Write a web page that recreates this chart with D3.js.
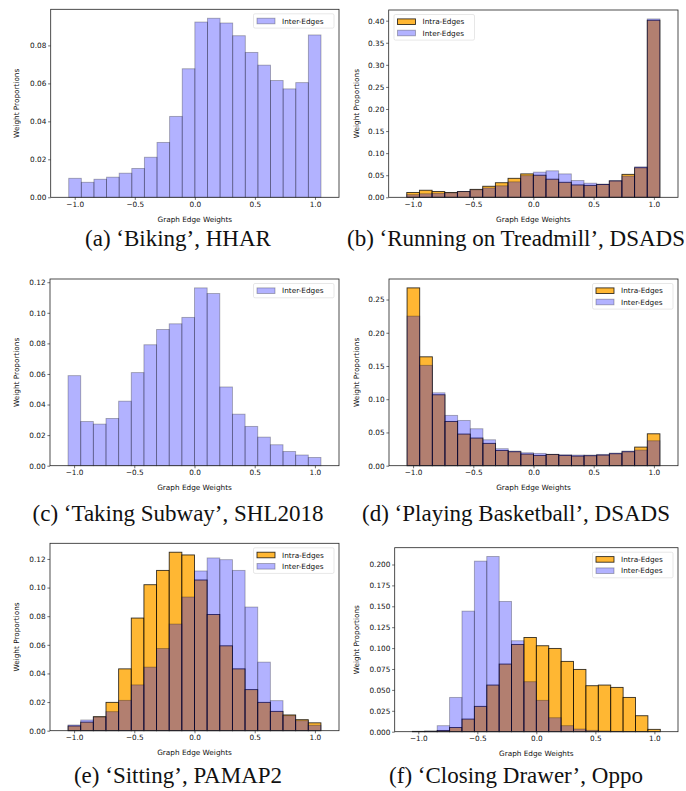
<!DOCTYPE html>
<html>
<head>
<meta charset="utf-8">
<script src="https://cdn.jsdelivr.net/npm/d3@7"></script>
<style>
  body { margin: 0; background: #fff; }
  svg { display: block; }
  .tick text { font-family: "DejaVu Sans", sans-serif; font-size: 7.3px; fill: #111; }
  .axis-label { font-family: "DejaVu Sans", sans-serif; font-size: 7.3px; fill: #111; }
  .legend text { font-family: "DejaVu Sans", sans-serif; font-size: 7.3px; fill: #111; }
  .caption { font-family: "Liberation Serif", serif; font-size: 23px; fill: #111; }
</style>
</head>
<body>
<svg id="fig" width="686" height="791"></svg>
<script>
// histogram bin edges (20 bins)
const binEdges = [-1.05, -0.945, -0.84, -0.735, -0.63, -0.525, -0.42, -0.315, -0.21, -0.105,
  0, 0.105, 0.21, 0.315, 0.42, 0.525, 0.63, 0.735, 0.84, 0.945, 1.05];
const xTicks = [-1.0, -0.5, 0.0, 0.5, 1.0];

// (a) Biking, HHAR
const bikingInter = [0.0100, 0.0079, 0.0095, 0.0106, 0.0127, 0.0152, 0.0211, 0.0289, 0.0426, 0.0677,
  0.0923, 0.0943, 0.0918, 0.0851, 0.0763, 0.0696, 0.0615, 0.0571, 0.0604, 0.0855];
const bikingTicks = [0, 0.02, 0.04, 0.06, 0.08];

// (b) Running on Treadmill, DSADS
const treadmillIntra = [0.011, 0.016, 0.013, 0.011, 0.013, 0.018, 0.025, 0.033, 0.043, 0.053,
  0.050, 0.041, 0.034, 0.028, 0.027, 0.029, 0.037, 0.052, 0.067, 0.401];
const treadmillInter = [0.006, 0.008, 0.009, 0.010, 0.013, 0.017, 0.021, 0.026, 0.035, 0.049,
  0.057, 0.060, 0.053, 0.038, 0.032, 0.030, 0.038, 0.048, 0.069, 0.404];
const treadmillTicks = [0, 0.05, 0.10, 0.15, 0.20, 0.25, 0.30, 0.35, 0.40];

// (c) Taking Subway, SHL2018
const subwayInter = [0.0589, 0.0289, 0.0272, 0.0309, 0.0422, 0.0609, 0.0791, 0.0891, 0.0928, 0.0970,
  0.1163, 0.1126, 0.0515, 0.0337, 0.0257, 0.0187, 0.0137, 0.0093, 0.0070, 0.0054];
const subwayTicks = [0, 0.02, 0.04, 0.06, 0.08, 0.10, 0.12];

// (d) Playing Basketball, DSADS
const basketballIntra = [0.2675, 0.1638, 0.1067, 0.0666, 0.0476, 0.0416, 0.0336, 0.0230, 0.0210, 0.0175,
  0.0155, 0.0170, 0.0155, 0.0145, 0.0150, 0.0160, 0.0180, 0.0210, 0.0280, 0.0480];
const basketballInter = [0.2250, 0.1510, 0.1097, 0.0757, 0.0681, 0.0556, 0.0390, 0.0256, 0.0220, 0.0195,
  0.0185, 0.0170, 0.0165, 0.0160, 0.0160, 0.0170, 0.0190, 0.0220, 0.0235, 0.0375];
const basketballTicks = [0, 0.05, 0.10, 0.15, 0.20, 0.25];

// (e) Sitting, PAMAP2
const sittingIntra = [0.0033, 0.0060, 0.0098, 0.0198, 0.0432, 0.0787, 0.1020, 0.1120, 0.1247, 0.1228,
  0.1053, 0.0812, 0.0593, 0.0432, 0.0287, 0.0198, 0.0135, 0.0110, 0.0077, 0.0055];
const sittingInter = [0.0040, 0.0075, 0.0095, 0.0133, 0.0212, 0.0320, 0.0444, 0.0574, 0.0745, 0.0934,
  0.1116, 0.1207, 0.1195, 0.1120, 0.0864, 0.0479, 0.0210, 0.0105, 0.0070, 0.0038];
const sittingTicks = [0, 0.02, 0.04, 0.06, 0.08, 0.10, 0.12];

// (f) Closing Drawer, Oppo
const drawerIntra = [0.0004, 0.0005, 0.0015, 0.0050, 0.0151, 0.0303, 0.0558, 0.0809, 0.1044, 0.1127,
  0.1028, 0.0996, 0.0841, 0.0745, 0.0550, 0.0558, 0.0530, 0.0410, 0.0191, 0.0028];
const drawerInter = [0.0002, 0.0008, 0.0072, 0.0410, 0.1442, 0.2040, 0.2096, 0.1558, 0.1088, 0.0598,
  0.0375, 0.0167, 0.0072, 0.0032, 0.0016, 0.0008, 0.0004, 0.0002, 0.0001, 0];
const drawerTicks = [0, 0.025, 0.05, 0.075, 0.10, 0.125, 0.15, 0.175, 0.20];

const captions = [
  "(a) \u2018Biking\u2019, HHAR",
  "(b) \u2018Running on Treadmill\u2019, DSADS",
  "(c) \u2018Taking Subway\u2019, SHL2018",
  "(d) \u2018Playing Basketball\u2019, DSADS",
  "(e) \u2018Sitting\u2019, PAMAP2",
  "(f) \u2018Closing Drawer\u2019, Oppo"
];

const panels = [
  { intra: null, inter: bikingInter, ticks: bikingTicks, fmt: ".2f", legend: "right",
    left: 50.7, right: 339, top: 9.3, bottom: 197.3, ylabX: 16.7, capX: 178, capY: 246 },
  { intra: treadmillIntra, inter: treadmillInter, ticks: treadmillTicks, fmt: ".2f", legend: "left",
    left: 388.7, right: 678, top: 10, bottom: 197.3, ylabX: 356.3, capX: 516, capY: 246 },
  { intra: null, inter: subwayInter, ticks: subwayTicks, fmt: ".2f", legend: "right",
    left: 50, right: 339, top: 279, bottom: 465.7, ylabX: 16.7, capX: 178, capY: 521 },
  { intra: basketballIntra, inter: basketballInter, ticks: basketballTicks, fmt: ".2f", legend: "right",
    left: 389, right: 678, top: 279, bottom: 465.7, ylabX: 356.3, capX: 516, capY: 521 },
  { intra: sittingIntra, inter: sittingInter, ticks: sittingTicks, fmt: ".2f", legend: "right",
    left: 50, right: 339, top: 543.3, bottom: 730.7, ylabX: 16.7, capX: 178, capY: 783 },
  { intra: drawerIntra, inter: drawerInter, ticks: drawerTicks, fmt: ".3f", legend: "right",
    left: 394.7, right: 678, top: 547.7, bottom: 731.7, ylabX: 356.3, capX: 516, capY: 783 }
];

const svg = d3.select('#fig');
const minusFmt = f => v => d3.format(f)(v).replace('-', '\u2212');

panels.forEach((p, i) => {
  const g = svg.append('g');
  const x = d3.scaleLinear().domain([-1.2, 1.2]).range([p.left, p.right]);
  const all = (p.intra || []).concat(p.inter);
  const y = d3.scaleLinear().domain([0, d3.max(all) * 1.05]).range([p.bottom, p.top]);

  const bins = p.inter.map((v, k) => ({ x0: binEdges[k], x1: binEdges[k + 1] }));

  // Intra-Edges drawn first, then Inter-Edges on top
  if (p.intra) {
    g.append('g').selectAll('rect')
      .data(p.intra)
      .enter().append('rect')
      .attr('x', (d, k) => x(bins[k].x0))
      .attr('width', (d, k) => x(bins[k].x1) - x(bins[k].x0))
      .attr('y', d => y(d))
      .attr('height', d => y(0) - y(d))
      .attr('fill', '#ffa500').attr('fill-opacity', 0.8)
      .attr('stroke', '#000').attr('stroke-opacity', 0.8).attr('stroke-width', 0.9);
  }
  g.append('g').selectAll('rect')
    .data(p.inter)
    .enter().append('rect')
    .attr('x', (d, k) => x(bins[k].x0))
    .attr('width', (d, k) => x(bins[k].x1) - x(bins[k].x0))
    .attr('y', d => y(d))
    .attr('height', d => y(0) - y(d))
    .attr('fill', '#0000ff').attr('fill-opacity', 0.3)
    .attr('stroke', '#000').attr('stroke-opacity', 0.3).attr('stroke-width', 0.9);

  // Axes
  const xAxis = g.append('g')
    .attr('transform', 'translate(0,' + p.bottom + ')')
    .call(d3.axisBottom(x).tickValues(xTicks).tickSize(2.6).tickPadding(1.8).tickFormat(minusFmt('.1f')));
  const yAxis = g.append('g')
    .attr('transform', 'translate(' + p.left + ',0)')
    .call(d3.axisLeft(y).tickValues(p.ticks).tickSize(2.6).tickPadding(1.8).tickFormat(minusFmt(p.fmt)));
  [xAxis, yAxis].forEach(a => {
    a.select('.domain').remove();
    a.selectAll('.tick line').attr('stroke', '#111').attr('stroke-width', 0.6);
  });

  // Frame
  g.append('rect')
    .attr('x', p.left).attr('y', p.top)
    .attr('width', p.right - p.left).attr('height', p.bottom - p.top)
    .attr('fill', 'none').attr('stroke', '#222').attr('stroke-width', 0.8);

  // Axis labels
  g.append('text').attr('class', 'axis-label')
    .attr('x', (p.left + p.right) / 2).attr('y', p.bottom + 24.5)
    .attr('text-anchor', 'middle').text('Graph Edge Weights');
  g.append('text').attr('class', 'axis-label')
    .attr('transform', 'translate(' + (p.ylabX + 2.6) + ',' + (p.top + p.bottom) / 2 + ') rotate(-90)')
    .attr('text-anchor', 'middle').text('Weight Proportions');

  // Legend
  const entries = [];
  if (p.intra) entries.push({ label: 'Intra-Edges', fill: '#ffa500', fo: 0.8, so: 0.8 });
  entries.push({ label: 'Inter-Edges', fill: '#0000ff', fo: 0.3, so: 0.3 });
  const lw = 80.5, lh = 3 + entries.length * 11.3;
  const lx = p.legend === 'right' ? p.right - 5 - lw : p.left + 5.3;
  const ly = p.top + 4.5;
  const leg = g.append('g').attr('class', 'legend');
  leg.append('rect')
    .attr('x', lx).attr('y', ly).attr('width', lw).attr('height', lh)
    .attr('rx', 1.5).attr('fill', '#fff').attr('fill-opacity', 0.8)
    .attr('stroke', '#d6d6d6').attr('stroke-width', 0.6);
  entries.forEach((e, k) => {
    const cy = ly + 7.2 + k * 11.3;
    leg.append('rect')
      .attr('x', lx + 3.5).attr('y', cy - 2.8).attr('width', 18).attr('height', 5.6)
      .attr('fill', e.fill).attr('fill-opacity', e.fo)
      .attr('stroke', '#000').attr('stroke-opacity', e.so).attr('stroke-width', 0.9);
    leg.append('text')
      .attr('x', lx + 28.5).attr('y', cy + 2.7).text(e.label);
  });

  // Caption
  svg.append('text').attr('class', 'caption')
    .attr('x', p.capX).attr('y', p.capY)
    .attr('text-anchor', 'middle').text(captions[i]);
});
</script>
</body>
</html>
